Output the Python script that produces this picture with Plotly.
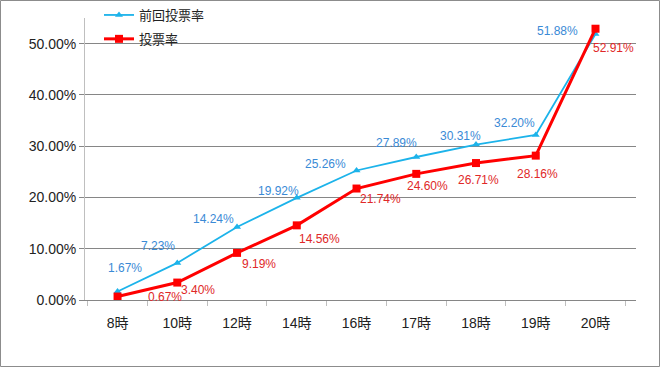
import plotly.graph_objects as go

categories = ["8時", "10時", "12時", "14時", "16時", "17時", "18時", "19時", "20時"]
prev_rate = [1.67, 7.23, 14.24, 19.92, 25.26, 27.89, 30.31, 32.20, 51.88]
curr_rate = [0.67, 3.40, 9.19, 14.56, 21.74, 24.60, 26.71, 28.16, 52.91]
prev_name = "前回投票率"
curr_name = "投票率"

# label offsets (pixels) - style only
prev_dx = [7, -19, -24, -18, -31, -20, -16, -21, -38]
prev_dy = [-23, -17, -8, -7, -6, -14, -9, -12, -3]
curr_dx = [47, 21, 22, 23, 24, 11, 2, 2, 18]
curr_dy = [0, 7, 11, 14, 10, 12, 17, 18, 19]

W, H = 660, 367
ML, MR, MT, MB = 85, 24, 18, 67
PW, PH = W - ML - MR, H - MT - MB

FONT = "Liberation Sans, Arial, Noto Sans CJK JP, sans-serif"
BLUE_LINE = "#1CB3EA"
BLUE_TEXT = "#3A8AD6"
RED_LINE = "#FF0000"
RED_TEXT = "#E02828"

fig = go.Figure()
fig.add_trace(go.Scatter(
    x=categories, y=[v / 100 for v in prev_rate], name=prev_name,
    mode="lines+markers", legendgroup="a",
    line=dict(color=BLUE_LINE, width=1.8),
    marker=dict(symbol="triangle-up", size=7, color=BLUE_LINE),
))
fig.add_trace(go.Scatter(
    x=categories, y=[v / 100 for v in curr_rate], name=curr_name,
    mode="lines+markers", legendgroup="b",
    line=dict(color=RED_LINE, width=3),
    marker=dict(symbol="square", size=8, color=RED_LINE),
))

annotations = []
for c, v, dx, dy in zip(categories, prev_rate, prev_dx, prev_dy):
    annotations.append(dict(x=c, y=v / 100, text=f"{v:.2f}%", showarrow=False,
                            xshift=dx, yshift=-dy,
                            font=dict(family=FONT, size=12, color=BLUE_TEXT)))
for c, v, dx, dy in zip(categories, curr_rate, curr_dx, curr_dy):
    annotations.append(dict(x=c, y=v / 100, text=f"{v:.2f}%", showarrow=False,
                            xshift=dx, yshift=-dy,
                            font=dict(family=FONT, size=12, color=RED_TEXT)))

fig.update_layout(
    width=W, height=H,
    margin=dict(l=ML, r=MR, t=MT, b=MB, pad=0, autoexpand=False),
    paper_bgcolor="white", plot_bgcolor="white",
    font=dict(family=FONT, color="#222222"),
    annotations=annotations,
    showlegend=True,
    legend=dict(
        xref="paper", yref="paper",
        x=(99 - ML) / PW, y=(MT + PH - 0) / PH, xanchor="left", yanchor="top",
        bgcolor="rgba(0,0,0,0)", font=dict(size=13, color="#222222"),
        traceorder="grouped", tracegroupgap=4, itemwidth=30,
    ),
    shapes=[dict(
        type="rect", xref="paper", yref="paper",
        x0=(0.5 - ML) / PW, x1=(W - 0.5 - ML) / PW,
        y0=(MT + PH - (H - 0.5)) / PH, y1=(MT + PH - 0.5) / PH,
        line=dict(color="#8C8C8C", width=1), fillcolor="rgba(0,0,0,0)",
    )],
)
fig.update_xaxes(
    type="category", tickson="boundaries", ticks="outside", ticklen=5,
    tickcolor="#BFBFBF", showgrid=False, showline=True, linecolor="#868686",
    tickfont=dict(size=14, color="#222222"), tickangle=0, ticklabelstandoff=10,
    fixedrange=True,
)
fig.update_yaxes(
    range=[0, 0.55], dtick=0.1, tick0=0, tickformat=".2%",
    showgrid=True, gridcolor="#868686", gridwidth=1,
    zeroline=False, showline=True, linecolor="#BFBFBF", linewidth=1,
    ticks="outside", ticklen=5, tickcolor="#868686",
    tickfont=dict(size=14, color="#222222"), fixedrange=True,
)

fig.write_html("out.html", config={"displayModeBar": False},
               post_script="document.body.style.margin='0px';")
